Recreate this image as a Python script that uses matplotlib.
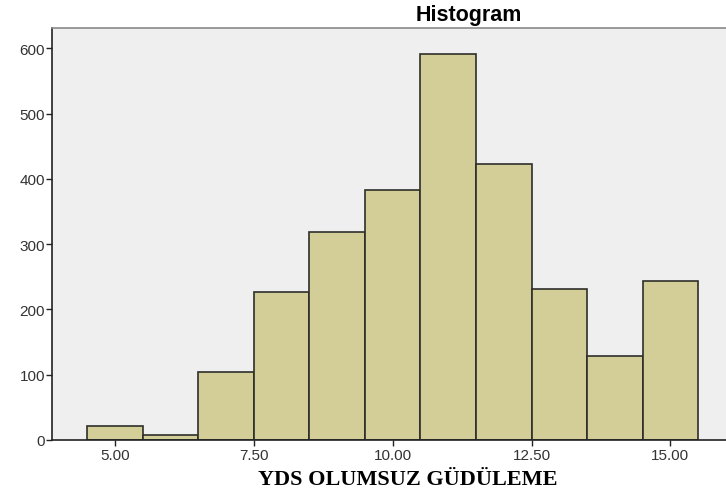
import numpy as np
import matplotlib.pyplot as plt

# histogram bins (centres) and counts read from the SPSS output
bin_centers = [5, 6, 7, 8, 9, 10, 11, 12, 13, 14, 15]
counts = [21, 7, 104, 226, 319, 383, 591, 423, 232, 128, 243]
x_ticks = [5.0, 7.5, 10.0, 12.5, 15.0]
y_ticks = [0, 100, 200, 300, 400, 500, 600]

fig = plt.figure(figsize=(7.26, 4.89), dpi=100)
ax = fig.add_axes([0.0716, 0.0982, 0.9284, 0.8425])
ax.set_facecolor("#efefef")

ax.bar(bin_centers, counts, width=1.0, color="#d3ce98",
       edgecolor="#2e2e2a", linewidth=1.2, zorder=2)

ax.set_xlim(3.87, 16.0)
ax.set_ylim(0, 631)
ax.set_xticks(x_ticks)
ax.set_xticklabels([f"{t:.2f}" for t in x_ticks])
ax.set_yticks(y_ticks)

ax.tick_params(axis="both", direction="out", length=4, width=1,
               color="#222222", labelcolor="#333333", labelsize=11)
ax.tick_params(axis="x", pad=2)
ax.tick_params(axis="y", pad=1)

ax.spines["right"].set_visible(False)
ax.spines["top"].set_color("#8a8a8a")
ax.spines["top"].set_linewidth(1.2)
ax.spines["left"].set_color("#222222")
ax.spines["bottom"].set_color("#222222")
ax.spines["left"].set_linewidth(1.2)
ax.spines["bottom"].set_linewidth(1.2)

for lab in ax.get_xticklabels() + ax.get_yticklabels():
    lab.set_family("Liberation Sans")

fig.text(0.646, 0.969, "Histogram", ha="center", va="center",
         fontsize=15.5, fontweight="bold", family="Liberation Sans")
fig.text(0.561, 0.018, "YDS OLUMSUZ GÜDÜLEME", ha="center", va="center",
         fontsize=16, fontweight="bold", family="Liberation Serif")

fig.savefig("out.png", dpi=100)
